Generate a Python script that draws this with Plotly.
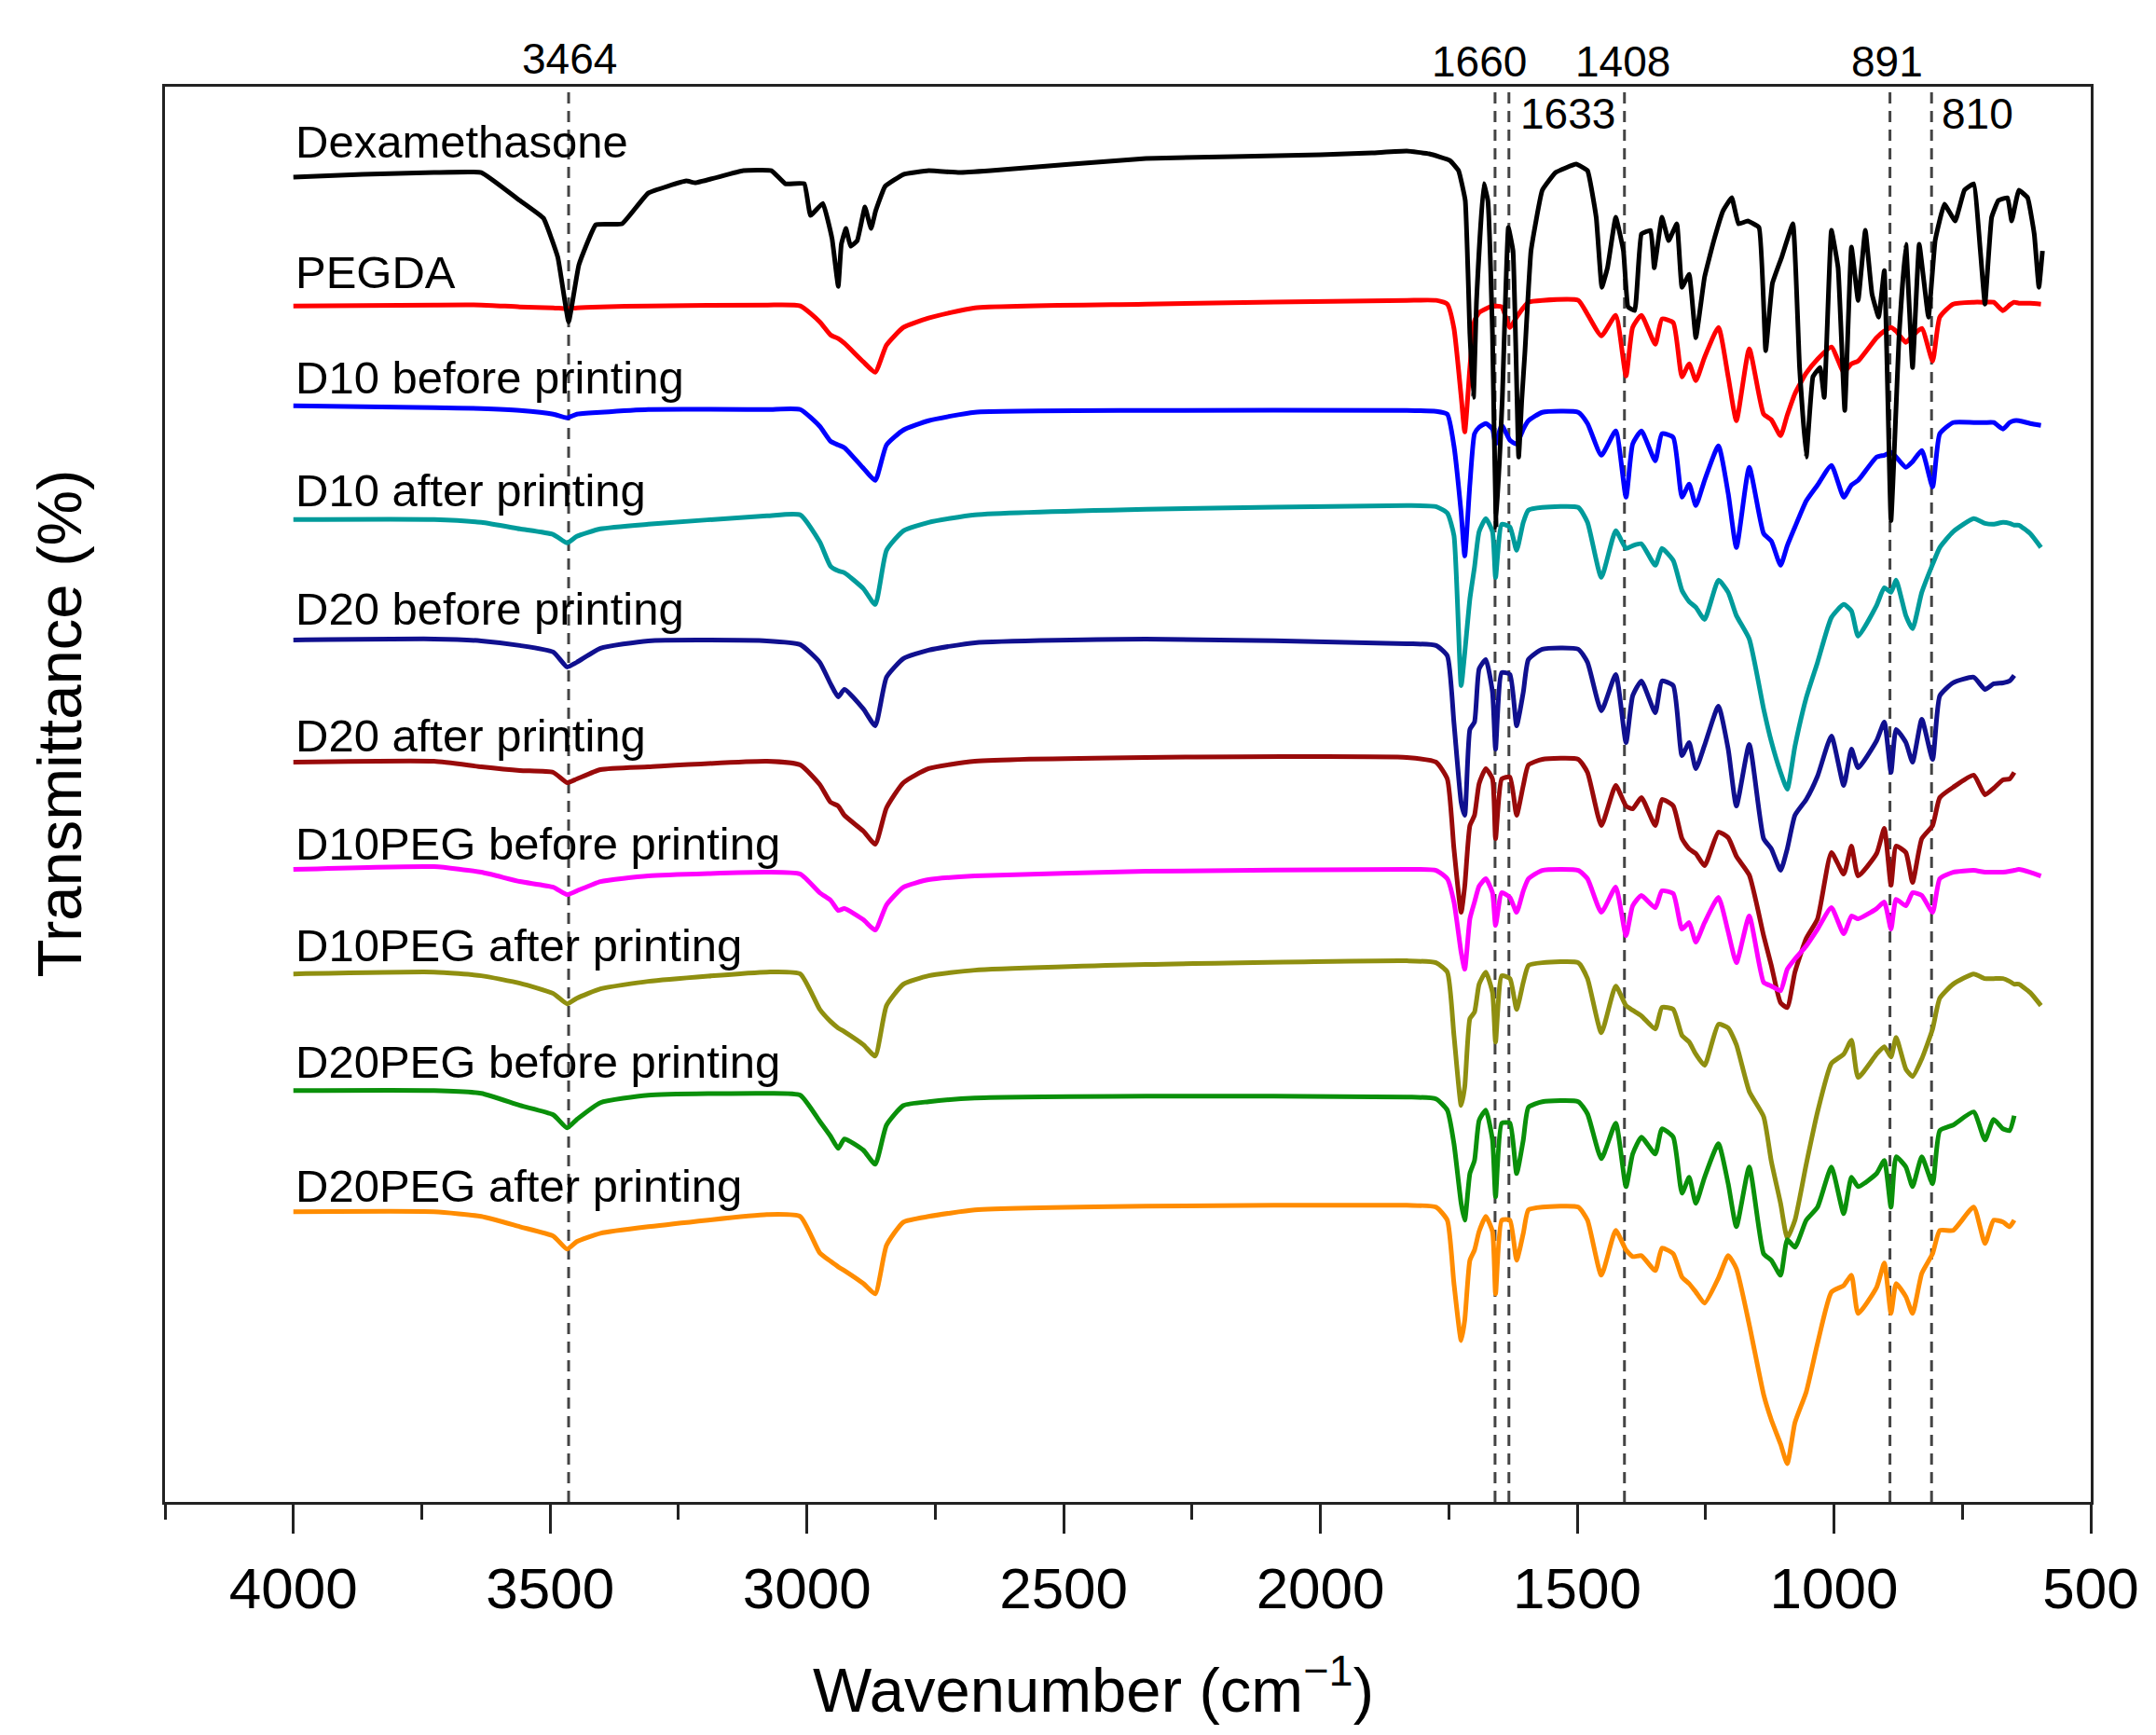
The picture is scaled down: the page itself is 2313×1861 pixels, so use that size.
import plotly.graph_objects as go

# stacked FTIR spectra, transmittance in arbitrary offset units
# wavenumber grid (cm-1) shared by the nine polymer spectra
wn = [4000, 3726, 3634, 3559, 3494, 3467, 3448, 3402, 3309, 3078, 3013,
      2975, 2954, 2939, 2927, 2890, 2867, 2845, 2812, 2763, 2673, 2340,
      1832, 1775, 1753, 1740, 1726, 1719, 1709, 1700, 1691, 1678,
      1665, 1659, 1647, 1631, 1618, 1605, 1595, 1568, 1498, 1480,
      1453, 1425, 1405, 1392, 1375, 1348, 1335, 1313, 1296, 1282,
      1269, 1252, 1225, 1206, 1190, 1165, 1137, 1122, 1104, 1091,
      1076, 1054, 1032, 1005, 981, 966, 953, 917, 902, 889,
      879, 860, 847, 829, 808, 794, 768, 728, 706, 689,
      671, 658, 649, 640, 618, 597]

pegda = [1282, 1283, 1283, 1281, 1280, 1279, 1280, 1281, 1282, 1283, 1282,
         1265, 1251, 1247, 1242, 1222, 1211, 1240, 1259, 1269, 1280, 1284,
         1288, 1288, 1284, 1258, 1185, 1147, 1216, 1266, 1275, 1279,
         1282, 1282, 1281, 1259, 1270, 1280, 1286, 1288, 1288, 1273,
         1250, 1272, 1207, 1259, 1272, 1241, 1268, 1264, 1206, 1220,
         1202, 1227, 1259, 1206, 1159, 1236, 1166, 1160, 1143, 1165,
         1188, 1210, 1225, 1238, 1211, 1220, 1223, 1248, 1255, 1259,
         1255, 1243, 1250, 1258, 1223, 1270, 1284, 1286, 1286, 1286,
         1277, 1283, 1286, 1285, 1285, 1284]

d10_before = [1175, 1173, 1172, 1170, 1166, 1162, 1166, 1168, 1171, 1171, 1171,
              1153, 1137, 1133, 1130, 1108, 1095, 1133, 1149, 1159, 1168, 1170,
              1170, 1169, 1166, 1132, 1060, 1014, 1091, 1145, 1152, 1156,
              1150, 1134, 1154, 1138, 1134, 1150, 1159, 1168, 1168, 1156,
              1122, 1148, 1077, 1134, 1148, 1116, 1145, 1141, 1077, 1091,
              1068, 1095, 1132, 1081, 1023, 1109, 1038, 1030, 1004, 1025,
              1045, 1073, 1090, 1111, 1077, 1090, 1095, 1120, 1122, 1125,
              1120, 1109, 1115, 1127, 1088, 1145, 1157, 1157, 1157, 1157,
              1150, 1157, 1159, 1159, 1156, 1154]

d10_after = [1053, 1053, 1050, 1043, 1037, 1028, 1035, 1043, 1048, 1057, 1058,
             1029, 1003, 998, 996, 979, 962, 1020, 1041, 1050, 1058, 1064,
             1068, 1067, 1060, 1036, 875, 910, 968, 1002, 1040, 1054,
             1040, 991, 1048, 1045, 1020, 1050, 1063, 1066, 1066, 1050,
             991, 1041, 1022, 1025, 1027, 1004, 1022, 1009, 977, 965,
             959, 946, 988, 975, 950, 925, 850, 815, 782, 764,
             810, 862, 900, 948, 962, 955, 928, 961, 980, 975,
             988, 950, 936, 975, 1005, 1023, 1040, 1054, 1049, 1048,
             1050, 1049, 1047, 1047, 1038, 1023]

d20_before = [924, 925, 923, 918, 911, 895, 900, 915, 923, 923, 919,
              900, 877, 863, 871, 850, 832, 884, 904, 913, 921, 925,
              920, 918, 907, 835, 750, 736, 828, 836, 893, 903,
              868, 807, 889, 887, 832, 868, 903, 914, 914, 900,
              848, 887, 814, 864, 880, 846, 880, 875, 800, 814,
              786, 811, 853, 807, 746, 812, 711, 700, 677, 700,
              736, 753, 778, 821, 768, 807, 787, 816, 836, 782,
              828, 814, 793, 839, 796, 864, 878, 884, 871, 877,
              878, 880, 886, None, None, None]

d20_after = [793, 794, 788, 784, 782, 771, 775, 785, 788, 794, 790,
             769, 750, 746, 736, 719, 705, 744, 771, 786, 794, 798,
             798, 793, 775, 700, 632, 660, 725, 736, 770, 786,
             775, 711, 775, 777, 736, 768, 790, 796, 796, 782,
             725, 768, 746, 743, 755, 725, 753, 746, 711, 700,
             695, 682, 718, 712, 692, 672, 607, 575, 535, 530,
             568, 604, 625, 696, 673, 703, 671, 695, 722, 661,
             703, 696, 664, 711, 725, 755, 766, 779, 758, 765,
             774, 775, 782, None, None, None]

d10peg_before = [678, 681, 675, 665, 659, 651, 655, 665, 671, 675, 673,
                 653, 645, 634, 636, 624, 613, 640, 659, 667, 671, 676,
                 678, 677, 668, 643, 589, 571, 625, 643, 660, 668,
                 653, 618, 653, 648, 632, 655, 668, 677, 677, 668,
                 632, 659, 607, 639, 650, 637, 655, 652, 614, 621,
                 600, 621, 648, 611, 578, 628, 557, 553, 548, 571,
                 582, 596, 614, 637, 609, 628, 625, 636, 643, 614,
                 646, 639, 653, 650, 632, 668, 675, 677, 675, 675,
                 675, 676, 677, 678, 675, 671]

d10peg_after = [566, 568, 564, 556, 545, 534, 540, 550, 558, 568, 566,
                528, 515, 508, 504, 490, 478, 532, 555, 564, 570, 576,
                580, 578, 568, 500, 425, 445, 518, 525, 555, 568,
                546, 493, 564, 561, 528, 557, 575, 578, 578, 561,
                503, 553, 532, 527, 521, 507, 530, 528, 500, 493,
                480, 468, 512, 508, 490, 440, 413, 365, 320, 283,
                302, 362, 418, 470, 480, 495, 455, 480, 488, 477,
                498, 464, 456, 475, 507, 540, 555, 566, 561, 561,
                561, 558, 555, 555, 546, 532]

d20peg_before = [441, 441, 438, 425, 415, 401, 410, 428, 436, 438, 436,
                 408, 392, 379, 389, 377, 362, 404, 425, 429, 433, 435,
                 434, 432, 420, 384, 320, 302, 352, 366, 409, 420,
                 388, 327, 406, 406, 352, 388, 423, 429, 429, 416,
                 368, 406, 338, 373, 391, 373, 400, 391, 331, 348,
                 320, 348, 384, 341, 295, 359, 266, 259, 243, 281,
                 273, 302, 316, 359, 309, 348, 338, 352, 366, 316,
                 370, 359, 338, 370, 341, 398, 404, 418, 388, 410,
                 400, 398, 414, None, None, None]

d20peg_after = [311, 311, 306, 295, 285, 271, 279, 288, 295, 308, 306,
                267, 258, 252, 248, 234, 223, 275, 300, 306, 313, 317,
                318, 316, 302, 234, 173, 195, 259, 270, 290, 306,
                290, 223, 302, 302, 259, 288, 313, 316, 316, 302,
                243, 291, 270, 263, 264, 248, 272, 266, 241, 234,
                225, 213, 240, 264, 250, 190, 115, 88, 62, 41,
                85, 118, 170, 225, 232, 243, 202, 230, 256, 202,
                234, 220, 202, 245, 266, 291, 291, 316, 277, 302,
                300, 295, 302, None, None, None]

# dexamethasone has its own, denser grid
dex_wn = [4000, 3865, 3726, 3634, 3559, 3513, 3485, 3464, 3444, 3411, 3360, 3309,
          3235, 3217, 3124, 3069, 3042, 3005, 2993, 2969, 2951, 2939, 2933, 2924,
          2915, 2902, 2887, 2875, 2866, 2848, 2812, 2763, 2703, 2642, 2340, 2000, 1900,
          1832, 1788, 1748, 1731, 1718, 1709, 1702, 1696, 1682, 1674,
          1665, 1658, 1646, 1634, 1625, 1614, 1608, 1602, 1590, 1568,
          1542, 1502, 1480, 1463, 1452, 1441, 1425, 1410, 1401, 1388,
          1375, 1357, 1350, 1335, 1322, 1306, 1296, 1282, 1269, 1252,
          1234, 1216, 1199, 1186, 1168, 1146, 1133, 1120, 1102, 1080,
          1067, 1054, 1041, 1027, 1019, 1005, 992, 979, 966, 953,
          939, 926, 913, 902, 889, 873, 860, 847, 834, 816,
          803, 785, 764, 746, 728, 715, 706, 693, 680, 662,
          654, 640, 623, 610, 601, 594]
dex_t = [1420, 1423, 1425, 1425, 1395, 1376, 1334, 1265, 1326, 1369, 1370, 1403,
         1416, 1414, 1427, 1427, 1413, 1413, 1379, 1392, 1354, 1303, 1348, 1365,
         1346, 1352, 1388, 1365, 1384, 1410, 1423, 1427, 1425, 1427, 1440, 1444, 1446,
         1448, 1445, 1438, 1427, 1395, 1252, 1184, 1288, 1413, 1395,
         1252, 1045, 1181, 1366, 1341, 1120, 1181, 1231, 1341, 1406,
         1425, 1434, 1427, 1377, 1302, 1323, 1377, 1341, 1281, 1277,
         1359, 1363, 1323, 1377, 1352, 1370, 1302, 1316, 1248, 1313,
         1352, 1384, 1398, 1370, 1373, 1366, 1234, 1306, 1334, 1370,
         1216, 1120, 1206, 1216, 1184, 1363, 1323, 1170, 1345, 1288,
         1363, 1295, 1270, 1320, 1052, 1252, 1348, 1216, 1348, 1270,
         1352, 1391, 1373, 1406, 1413, 1341, 1284, 1377, 1395, 1398,
         1373, 1406, 1398, 1359, 1302, 1341]

names = ["PEGDA", "D10 before printing", "D10 after printing", "D20 before printing",
         "D20 after printing", "D10PEG before printing", "D10PEG after printing",
         "D20PEG before printing", "D20PEG after printing"]
spectra = [pegda, d10_before, d10_after, d20_before, d20_after,
           d10peg_before, d10peg_after, d20peg_before, d20peg_after]
colors = ["#ff0000", "#0000ff", "#009b9b", "#10108f", "#990a0a",
          "#ff00ff", "#8f8f10", "#0a900a", "#ff8c00"]
# height of each text label above its curve
label_y = [1318, 1205, 1084, 957, 821, 706, 597, 472, 339]
dex_label_y = 1458

peaks = [3464, 1660, 1633, 1408, 891, 810]
# label x, paper y, anchor
peak_text = [("3464", 3462, 1.020, "center"), ("1660", 1690, 1.018, "center"),
             ("1633", 1614, 0.981, "left"), ("1408", 1412, 1.018, "center"),
             ("891", 897, 1.018, "center"), ("810", 794, 0.981, "left")]

FONT = "Liberation Sans, Arial, sans-serif"

fig = go.Figure()
for name, vals, col in zip(names, spectra, colors):
    fig.add_trace(go.Scatter(x=wn, y=vals, mode="lines", name=name,
                             line=dict(color=col, width=5, shape="spline", smoothing=0.5)))
fig.add_trace(go.Scatter(x=dex_wn, y=dex_t, mode="lines", name="Dexamethasone",
                         line=dict(color="#000000", width=5, shape="spline", smoothing=0.3)))

for p in peaks:
    fig.add_shape(type="line", xref="x", yref="paper", x0=p, x1=p, y0=0, y1=1,
                  line=dict(color="#444444", width=3, dash="12px,8px"), layer="below")

anns = []
for name, y in zip(["Dexamethasone"] + names, [dex_label_y] + label_y):
    anns.append(dict(x=4000, y=y, xref="x", yref="y", text=name, showarrow=False,
                     xanchor="left", yanchor="middle", font=dict(size=49, color="black")))
for txt, x, y, anc in peak_text:
    anns.append(dict(x=x, y=y, xref="x", yref="paper", text=txt, showarrow=False,
                     xanchor=anc, yanchor="middle", font=dict(size=46, color="black")))
anns.append(dict(x=-0.055, y=0.55, xref="paper", yref="paper", text="Transmittance (%)",
                 textangle=-90, showarrow=False, xanchor="center", yanchor="middle",
                 font=dict(size=67, color="black")))
anns.append(dict(x=0.482, y=-0.13, xref="paper", yref="paper",
                 text="Wavenumber (cm<sup>\u22121</sup>)", showarrow=False,
                 xanchor="center", yanchor="middle", font=dict(size=67, color="black")))

fig.update_layout(
    width=2313, height=1861, autosize=False,
    margin=dict(l=169, r=78, t=85, b=258),
    paper_bgcolor="white", plot_bgcolor="white",
    font=dict(family=FONT, color="black"),
    showlegend=False,
    annotations=anns,
)
fig.update_xaxes(range=[4250, 500], tick0=500, dtick=500, ticks="outside", ticklen=31,
                 tickwidth=3, tickcolor="#222", showline=True, linewidth=3, linecolor="#222",
                 mirror=True, showgrid=False, zeroline=False,
                 tickfont=dict(size=62, color="black"), ticklabelstandoff=6,
                 minor=dict(dtick=250, tick0=500, ticks="outside", ticklen=16,
                            tickwidth=3, tickcolor="#222"))
fig.update_yaxes(range=[0, 1517], showticklabels=False, ticks="", showline=True,
                 linewidth=3, linecolor="#222", mirror=True, showgrid=False, zeroline=False)

fig.write_html("out.html")
